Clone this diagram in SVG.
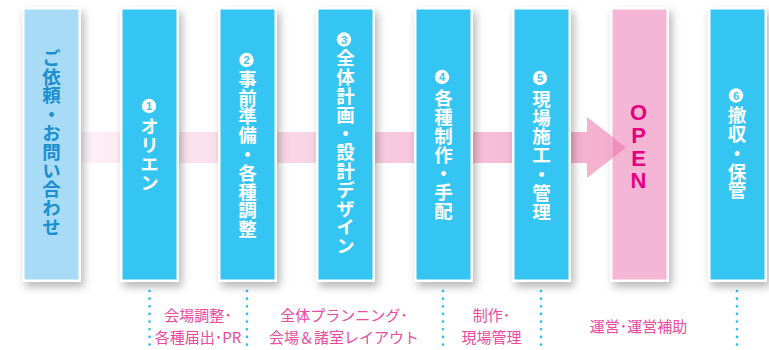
<svg xmlns="http://www.w3.org/2000/svg" width="769" height="350" viewBox="0 0 769 350">
<style>
.box{stroke:#fff;stroke-width:2.5;filter:url(#sh)}
.blue{fill:#35c5f3}
.vt{font-family:"Noto Sans CJK JP","Noto Sans",sans-serif;font-weight:bold;font-size:18.5px;letter-spacing:0.3px;writing-mode:vertical-rl;fill:#fff}
.num{fill:#fff}
.numt{font-family:"Liberation Sans",Arial,sans-serif;font-weight:bold;font-size:11px;fill:#35c5f3;text-anchor:middle}
.lbl{font-family:"Noto Sans CJK JP","Noto Sans",sans-serif;font-size:15px;fill:#ec4aa0;text-anchor:middle}
.dot{stroke:#2fbdee;stroke-width:2.7;stroke-linecap:round;stroke-dasharray:0 7.65;fill:none}
</style>
<defs>
<filter id="sh" x="-30%" y="-10%" width="170%" height="125%">
<feDropShadow dx="3" dy="5" stdDeviation="4" flood-color="#000" flood-opacity="0.28"/>
</filter>
<linearGradient id="band" gradientUnits="userSpaceOnUse" x1="81" y1="0" x2="600" y2="0">
<stop offset="0" stop-color="#ec6fa8" stop-opacity="0.1"/>
<stop offset="1" stop-color="#ec6fa8" stop-opacity="0.55"/>
</linearGradient>
</defs>
<rect width="769" height="350" fill="#fff"/>

<g id="open">
<rect class="box" x="611.25" y="8.25" width="56.5" height="272.5" fill="#f4b6d4"/>
<text font-family="'Liberation Sans',Arial,sans-serif" font-weight="bold" font-size="22" fill="#e4007f" text-anchor="middle">
<tspan x="638.5" y="120">O</tspan><tspan x="638.5" y="142.7">P</tspan><tspan x="638.5" y="165.7">E</tspan><tspan x="638.5" y="188.3">N</tspan>
</text>
</g>

<g id="connectors">
<path d="M81 132 H587 V117 L626 147.5 L587 178 V163 H81 Z" fill="url(#band)"/>
<line class="dot" x1="149.5" y1="291" x2="149.5" y2="345"/>
<line class="dot" x1="247" y1="291" x2="247" y2="345"/>
<line class="dot" x1="443" y1="291" x2="443" y2="345"/>
<line class="dot" x1="541" y1="291" x2="541" y2="345"/>
<line class="dot" x1="737" y1="291" x2="737" y2="345"/>
</g>

<g id="n0">
<rect class="box" x="23.25" y="8.25" width="56.5" height="272.5" fill="#a8dcf6"/>
<text class="vt" x="51.5" y="48.5" style="fill:#1b8fd0">ご依頼・お問い合わせ</text>
</g>
<g id="n1">
<rect class="box blue" x="121.25" y="8.25" width="56.5" height="272.5"/>
<circle class="num" cx="149" cy="106" r="7.2"/><text class="numt" x="149" y="110">1</text>
<text class="vt" x="149.5" y="117">オリエン</text>
</g>
<g id="n2">
<rect class="box blue" x="219.25" y="8.25" width="56.5" height="272.5"/>
<circle class="num" cx="246.5" cy="60" r="7.2"/><text class="numt" x="246.5" y="64">2</text>
<text class="vt" x="247.5" y="69.5">事前準備・各種調整</text>
</g>
<g id="n3">
<rect class="box blue" x="317.25" y="8.25" width="56.5" height="272.5"/>
<circle class="num" cx="344" cy="39.5" r="7.2"/><text class="numt" x="344" y="43.5">3</text>
<text class="vt" x="345.5" y="49">全体計画・設計デザイン</text>
</g>
<g id="n4">
<rect class="box blue" x="415.25" y="8.25" width="56.5" height="272.5"/>
<circle class="num" cx="442" cy="77" r="7.2"/><text class="numt" x="442" y="81">4</text>
<text class="vt" x="443.5" y="89">各種制作・手配</text>
</g>
<g id="n5">
<rect class="box blue" x="513.25" y="8.25" width="56.5" height="272.5"/>
<circle class="num" cx="540" cy="78" r="7.2"/><text class="numt" x="540" y="82">5</text>
<text class="vt" x="541.5" y="89.5">現場施工・管理</text>
</g>
<g id="n6">
<rect class="box blue" x="709.25" y="8.25" width="56.5" height="272.5"/>
<circle class="num" cx="736" cy="95.5" r="7.2"/><text class="numt" x="736" y="99.5">6</text>
<text class="vt" x="737" y="106">撤収・保管</text>
</g>

<g id="labels">
<text class="lbl" x="198" y="321">会場調整･</text>
<text class="lbl" x="198" y="342.5">各種届出･PR</text>
<text class="lbl" x="344" y="321">全体プランニング･</text>
<text class="lbl" x="344" y="342.5">会場＆諸室レイアウト</text>
<text class="lbl" x="491.5" y="321">制作･</text>
<text class="lbl" x="491.5" y="342.5">現場管理</text>
<text class="lbl" x="638.5" y="332">運営･運営補助</text>
</g>
</svg>
